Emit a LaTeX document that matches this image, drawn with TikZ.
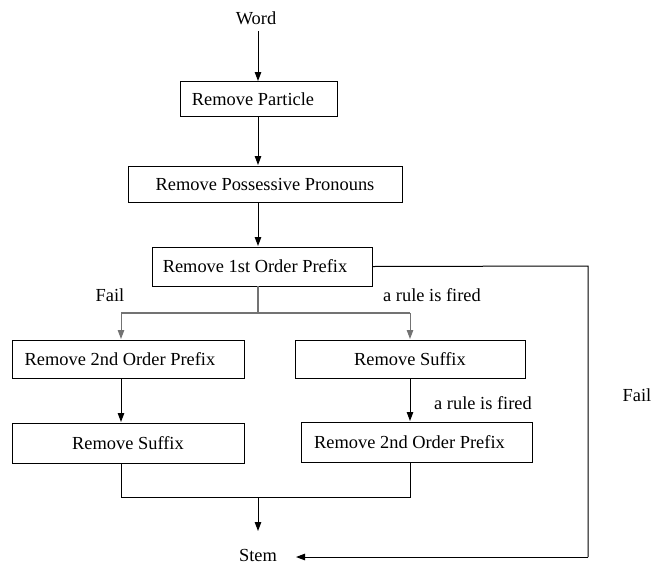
\documentclass[tikz,border=0pt]{standalone}
\usepackage{fontspec}
\setmainfont{Liberation Serif}
\usetikzlibrary{arrows.meta}
\begin{document}
\begin{tikzpicture}[x=1pt,y=-1pt,
  box/.style={draw,line width=1pt,rectangle,inner sep=0pt,font=\fontsize{18.4}{21}\selectfont},
  lbl/.style={inner sep=0pt,font=\fontsize{18.4}{21}\selectfont},
  arr/.style={line width=1pt,-{Triangle[length=9pt,width=6.5pt]}},
  ln/.style={line width=1pt},
  gln/.style={line width=1.1pt,draw=black!55}]
\useasboundingbox (0,0) rectangle (652,565);
\node[lbl] (word) at (256,18) {Word};
\node[box,minimum width=157pt,minimum height=35pt] (rp) at (258.5,99) {Remove Particle\hspace*{11pt}};
\node[box,minimum width=274pt,minimum height=36pt] (rpp) at (265,184) {Remove Possessive Pronouns};
\node[box,minimum width=220pt,minimum height=39pt] (r1) at (262,266.5) {Remove 1st Order Prefix\hspace*{14pt}};
\node[box,minimum width=232pt,minimum height=38pt] (l1) at (128,359) {Remove 2nd Order Prefix\hspace*{16pt}};
\node[box,minimum width=230pt,minimum height=38pt] (s1) at (410,359) {Remove Suffix};
\node[box,minimum width=232pt,minimum height=40pt] (l2) at (128,443) {Remove Suffix};
\node[box,minimum width=231pt,minimum height=40pt] (s2) at (416.5,442) {Remove 2nd Order Prefix\hspace*{14pt}};
\node[lbl] (stem) at (258,555.5) {Stem};
\node[lbl] (fl) at (110,295) {Fail};
\node[lbl] (rf1) at (432,295) {a rule is fired};
\node[lbl] (rf2) at (483,403) {a rule is fired};
\node[lbl] (fr) at (637,395) {Fail};
\coordinate (sp) at (258,313);
\coordinate (j) at (258,497);
\coordinate (rc) at (588,266);
\coordinate (rb) at (588,557);
\draw[arr] (258,31) -- (258,81);
\draw[arr] (258,116.5) -- (258,165);
\draw[arr] (258,202) -- (258,246);
\draw[gln] (258,286) -- (sp);
\draw[gln] (121,313) -- (410,313);
\draw[arr,draw=black!55] (121,313) -- (121,339);
\draw[arr,draw=black!55] (410,313) -- (410,339);
\draw[arr] (121,378) -- (121,422);
\draw[arr] (410,378) -- (410,421);
\draw[ln] (121,463) -- (121,497) -- (410,497) -- (410,462);
\draw[arr] (j) -- (258,531);
\draw[ln] (r1.east) -- (rc) -- (rb);
\draw[arr] (rb) -- (296,557);
\end{tikzpicture}
\end{document}
